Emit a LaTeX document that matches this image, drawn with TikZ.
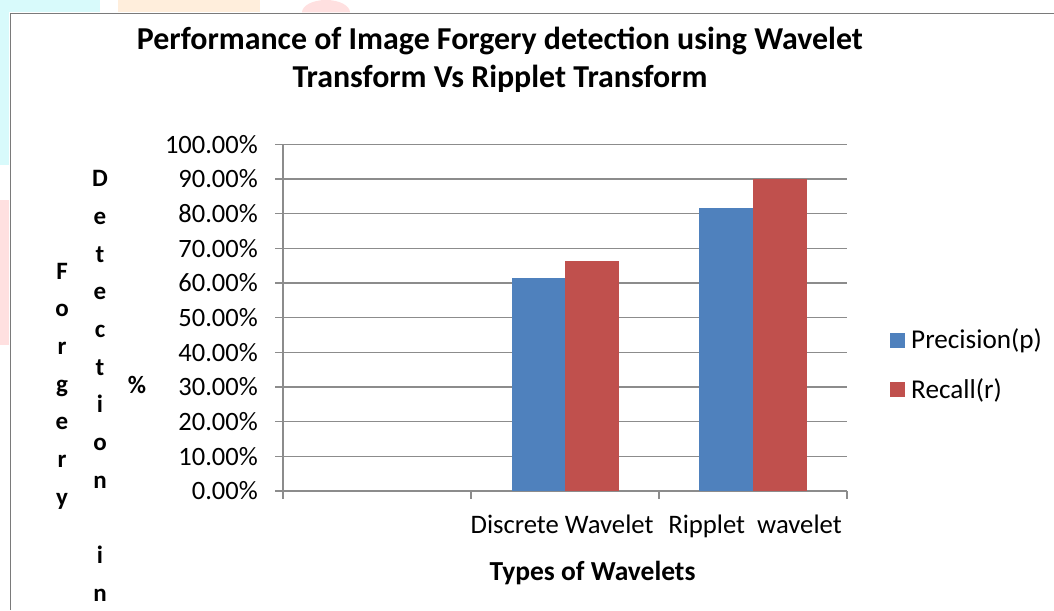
\documentclass[tikz,border=0pt]{standalone}
\usepackage{fontspec}
\setmainfont{Carlito}
\definecolor{barblue}{HTML}{4F81BD}
\definecolor{barred}{HTML}{C0504D}
\definecolor{gridgray}{HTML}{8C8C8C}
\definecolor{framegray}{HTML}{7A7A7A}
\definecolor{wmcyan}{HTML}{D8FAFB}
\definecolor{wmpeach}{HTML}{FFEEDC}
\definecolor{wmpink}{HTML}{FFE0E0}
\begin{document}
\begin{tikzpicture}[x=1pt,y=-1pt,
  gridline/.style={draw=gridgray, line width=1.3pt},
  framestyle/.style={draw=framegray, line width=1.5pt},
  ticklbl/.style={anchor=east, inner sep=0pt, font=\fontsize{26.5}{30}\selectfont},
  catlbl/.style={anchor=base, inner sep=0pt, font=\fontsize{26.7}{30}\selectfont},
  titlelbl/.style={anchor=base, inner sep=0pt, font=\bfseries\fontsize{31.9}{36}\selectfont},
  vertlbl/.style={align=center, inner sep=0pt, font=\bfseries\fontsize{25}{37.7}\selectfont},
  leglbl/.style={anchor=west, inner sep=0pt, font=\fontsize{27.2}{30}\selectfont},
]
\useasboundingbox (0,0) rectangle (1054,610);
\fill[white] (0,0) rectangle (1054,610);
% faint watermark pieces
\fill[wmcyan] (0,0) rectangle (100,12.5);
\fill[wmcyan] (0,0) rectangle (9,165);
\fill[wmpeach] (118,0) rectangle (260,12.5);
\fill[wmpink] (302,12.5) arc[start angle=180, end angle=360, x radius=24, y radius=12.5] -- cycle;
\fill[wmpink] (0,200) rectangle (9,345);
% frame
\draw[framestyle] (10.5,610) -- (10.5,13.5) -- (1054,13.5);
% title
\node[titlelbl] (t1) at (500,50) {Performance of Image Forgery detection using Wavelet};
\node[titlelbl] (t2) at (500,87) {Transform Vs Ripplet Transform};
% gridlines and tick labels
\foreach \v in {0,...,10}{
  \pgfmathsetmacro{\yy}{491-34.67*\v}
  \draw[gridline] (275,\yy) -- (847,\yy);
  \pgfmathtruncatemacro{\pc}{10*\v}
  \node[ticklbl] (tick\v) at (258,\yy) {\pc.00\%};
}
% axes
\draw[gridline] (283,144.3) -- (283,499.3);
\foreach \xx in {471,659,847}{
  \draw[gridline] (\xx,491) -- (\xx,499.3);
}
% bars
\fill[barblue] (511.7,491) rectangle (565.3,278.3);
\fill[barred] (565.3,491) rectangle (619,260.7);
\fill[barblue] (699.3,491) rectangle (753.3,208);
\fill[barred] (753.3,491) rectangle (806.7,179.3);
% category labels
\node[catlbl] (c1) at (562,533) {Discrete Wavelet};
\node[catlbl] (c2) at (755,533) {Ripplet\ \ wavelet};
\node[titlelbl, font=\bfseries\fontsize{27.5}{30}\selectfont] (xt) at (592.5,580) {Types of Wavelets};
% y axis title
\node[vertlbl] (y1) at (62,386) {F\\o\\r\\g\\e\\r\\y};
\node[vertlbl] (y2) at (100,386) {D\\e\\t\\e\\c\\t\\i\\o\\n\\\mbox{}\\i\\n};
\node[vertlbl] (y3) at (137,385) {\%};
% legend
\fill[barblue] (890,333.3) rectangle (905,348.3);
\node[leglbl] (l1) at (911,341) {Precision(p)};
\fill[barred] (890,382.3) rectangle (905,397.3);
\node[leglbl] (l2) at (911,390) {Recall(r)};
\end{tikzpicture}
\end{document}
